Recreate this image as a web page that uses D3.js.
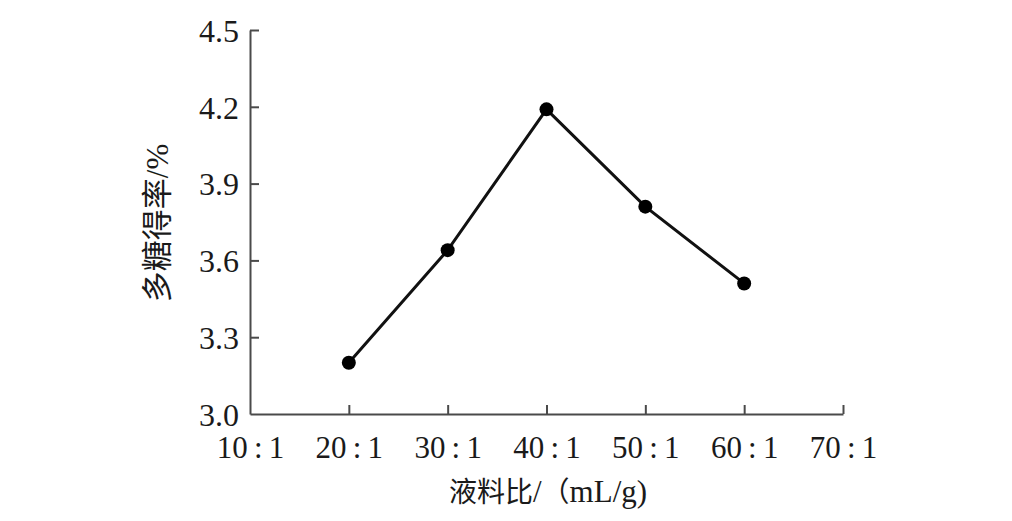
<!DOCTYPE html>
<html><head><meta charset="utf-8">
<script src="https://cdn.jsdelivr.net/npm/d3@7"></script>
<style>body{margin:0;background:#fff}svg{display:block}</style>
</head><body>
<svg id="c" width="1012" height="521"></svg>
<script>
const ratios = [20, 30, 40, 50, 60];
const yieldValues = [3.20, 3.64, 4.19, 3.81, 3.51];
const xTicks = [10, 20, 30, 40, 50, 60, 70];
const xTickLabels = ["10\u2009:\u20091","20\u2009:\u20091","30\u2009:\u20091","40\u2009:\u20091","50\u2009:\u20091","60\u2009:\u20091","70\u2009:\u20091"];
const yTicks = [3.0, 3.3, 3.6, 3.9, 4.2, 4.5];
const xTitleParts = [["液料比", "cjk"], ["/", "lat"], ["（", "cjk"], ["mL/g)", "lat"]];
const yTitleParts = [["多糖得率", "cjk"], ["/%", "lat"]];

const svg = d3.select("#c");
const x = d3.scaleLinear().domain([10, 70]).range([250, 843]);
const y = d3.scaleLinear().domain([3.0, 4.5]).range([414, 30]);
const serif = "'Liberation Serif','Times New Roman',serif";
const cjk = "'Noto Sans CJK SC',sans-serif";
const axisColor = "#4a4a4a";
const textColor = "#1a1a1a";

// x axis
const gx = svg.append("g").attr("transform", "translate(0,414)")
  .call(d3.axisBottom(x).tickValues(xTicks).tickSize(-9).tickSizeOuter(0)
    .tickFormat((d, i) => xTickLabels[i]));
gx.select(".domain").attr("stroke", axisColor).attr("stroke-width", 2);
gx.selectAll(".tick line").attr("stroke", axisColor).attr("stroke-width", 2)
  .filter(d => d === 10).remove();
gx.selectAll(".tick text").attr("y", 33).attr("dy", "0.35em")
  .attr("font-family", serif).attr("font-size", 31).attr("fill", textColor);

// y axis
const gy = svg.append("g").attr("transform", "translate(250,0)")
  .call(d3.axisLeft(y).tickValues(yTicks).tickSize(-9).tickSizeOuter(0)
    .tickFormat(d3.format(".1f")));
gy.select(".domain").attr("stroke", axisColor).attr("stroke-width", 2);
gy.selectAll(".tick line").attr("stroke", axisColor).attr("stroke-width", 2)
  .filter(d => d === 3.0).remove();
gy.selectAll(".tick text").attr("x", -11).attr("dy", "0.35em")
  .attr("font-family", serif).attr("font-size", 32).attr("fill", textColor);

// line
const pts = ratios.map((r, i) => [r, yieldValues[i]]);
svg.append("path").datum(pts)
  .attr("d", d3.line().x(d => x(d[0])).y(d => y(d[1])))
  .attr("fill", "none").attr("stroke", "#111").attr("stroke-width", 3);
svg.selectAll("circle.pt").data(pts).join("circle")
  .attr("class", "pt").attr("cx", d => x(d[0])).attr("cy", d => y(d[1]))
  .attr("r", 7).attr("fill", "#000");

// titles
const xt = svg.append("text").attr("x", 548).attr("y", 502).attr("text-anchor", "middle").attr("fill", textColor);
xTitleParts.forEach(([t, k]) => xt.append("tspan")
  .attr("font-family", k === "cjk" ? cjk : serif).attr("font-size", k === "cjk" ? 28 : 31).text(t));
const yt = svg.append("text").attr("transform", "translate(168,223) rotate(-90)").attr("text-anchor", "middle").attr("fill", textColor);
yTitleParts.forEach(([t, k]) => yt.append("tspan")
  .attr("font-family", k === "cjk" ? cjk : serif).attr("font-size", k === "cjk" ? 31 : 31).text(t));
</script>
</body></html>
